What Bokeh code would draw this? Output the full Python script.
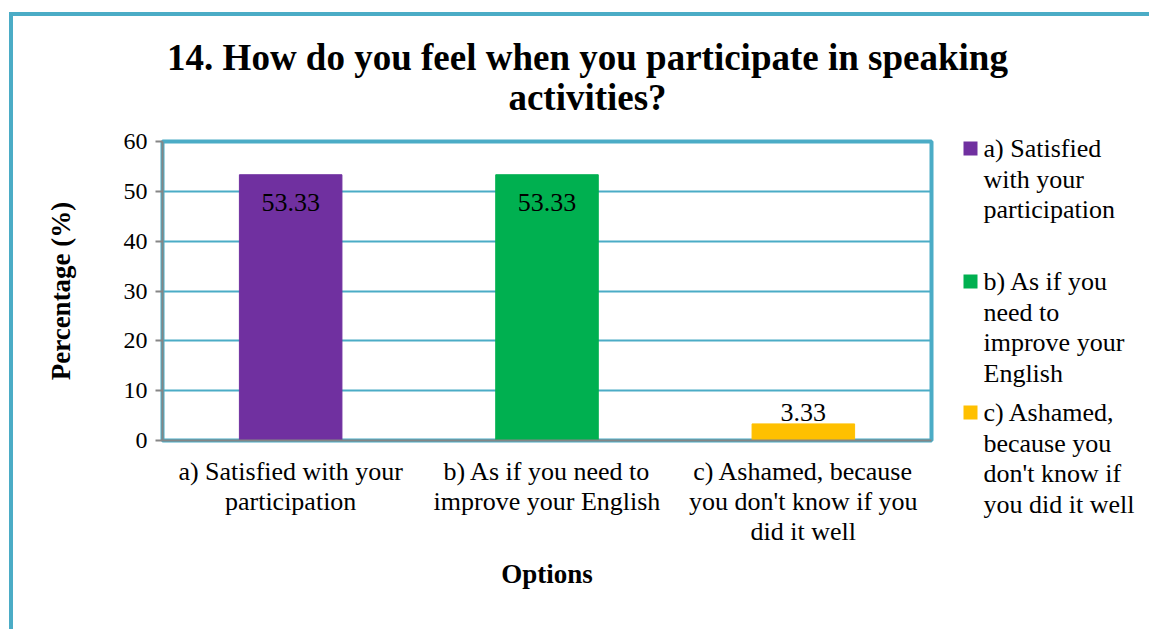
from bokeh.plotting import figure
from bokeh.layouts import row, column
from bokeh.models import (ColumnDataSource, LabelSet, FactorRange, FixedTicker, Range1d)
from bokeh.embed import file_html
from bokeh.resources import INLINE
from bokeh.core.properties import value

# ---- data ----
categories = ["a) Satisfied with your\nparticipation",
              "b) As if you need to\nimprove your English",
              "c) Ashamed, because\nyou don't know if you\ndid it well"]
legend_labels = ["a) Satisfied\nwith your\nparticipation",
                 "b) As if you\nneed to\nimprove your\nEnglish",
                 "c) Ashamed,\nbecause you\ndon't know if\nyou did it well"]
values = [53.33, 53.33, 3.33]
value_labels = ["53.33", "53.33", "3.33"]
colors = ["#7030A0", "#00B050", "#FFC000"]
y_ticks = [0, 10, 20, 30, 40, 50, 60]
title_lines = ["14. How do you feel when you participate in speaking", "activities?"]
x_title = "Options"
y_title = "Percentage (%)"

# ---- styling / layout constants ----
FONT = "Liberation Serif"
TEAL = "#4BACC6"
GRAY = "#868686"
label_offsets = [-28, -28, 11]          # px offset of value labels from bar top
W, TITLE_H, BODY_H, LEG_W = 1136, 110, 503, 206
title_y = [41, 81]
leg_item_top = [22, 155, 286]           # px (legend panel) of first line of each item
leg_line_pitch = 30.7

def blank(width, height):
    f = figure(width=width, height=height, x_range=Range1d(0, width),
               y_range=Range1d(height, 0), output_backend="svg",
               toolbar_location=None, min_border=0, x_axis_location=None,
               y_axis_location=None, background_fill_color="white",
               border_fill_color="white", frame_align=False)
    f.outline_line_color = None
    f.grid.visible = False
    f.title.visible = False
    return f

# ---- title panel ----
t = blank(W, TITLE_H)
t.text(x=[574, 574], y=title_y, text=title_lines, text_align="center",
       text_baseline="middle", text_font=value(FONT), text_font_size="37px",
       text_font_style="bold", text_color="black")

# ---- main chart ----
src = ColumnDataSource(dict(cat=categories, val=values, color=colors,
                            lab=value_labels, off=label_offsets))

p = figure(x_range=FactorRange(*categories), y_range=(0, 60),
           width=W - LEG_W, height=BODY_H, output_backend="svg", toolbar_location=None,
           min_border_left=149, min_border_right=12, min_border_top=15,
           min_border_bottom=189, background_fill_color="white",
           border_fill_color="white", frame_align=False)
p.title.visible = False

r = p.vbar(x="cat", top="val", width=0.4, color="color", source=src)

p.outline_line_color = TEAL
p.outline_line_width = 4
p.xgrid.grid_line_color = None
p.ygrid.grid_line_color = TEAL
p.ygrid.grid_line_width = 2
p.ygrid.ticker = FixedTicker(ticks=y_ticks)

p.yaxis.ticker = FixedTicker(ticks=y_ticks)
p.yaxis.axis_line_color = GRAY
p.yaxis.axis_line_width = 2
p.yaxis.major_tick_line_color = GRAY
p.yaxis.major_tick_line_width = 2
p.yaxis.major_tick_out = 7
p.yaxis.major_tick_in = 0
p.yaxis.minor_tick_line_color = None
p.yaxis.major_label_text_font = FONT
p.yaxis.major_label_text_font_size = "24px"
p.yaxis.major_label_text_color = "black"
p.yaxis.major_label_standoff = 8
p.yaxis.axis_label = y_title
p.yaxis.axis_label_text_font = FONT
p.yaxis.axis_label_text_font_size = "27px"
p.yaxis.axis_label_text_font_style = "bold"
p.yaxis.axis_label_text_color = "black"
p.yaxis.axis_label_standoff = 45

p.xaxis.axis_line_color = GRAY
p.xaxis.axis_line_width = 2
p.xaxis.major_tick_line_color = None
p.xaxis.minor_tick_line_color = None
p.xaxis.major_label_text_font = FONT
p.xaxis.major_label_text_font_size = "26px"
p.xaxis.major_label_text_color = "black"
p.xaxis.major_label_text_line_height = 1.05
p.xaxis.major_label_standoff = 10
p.xaxis.axis_label = x_title
p.xaxis.axis_label_text_font = FONT
p.xaxis.axis_label_text_font_size = "27px"
p.xaxis.axis_label_text_font_style = "bold"
p.xaxis.axis_label_text_color = "black"
p.xaxis.axis_label_standoff = 10

p.add_layout(LabelSet(x="cat", y="val", text="lab", y_offset="off", source=src,
                      text_align="center", text_baseline="middle",
                      text_font=FONT, text_font_size="26px", text_color="black"))

# ---- legend panel ----
q = blank(LEG_W, BODY_H)
sq_x, sq_y, txt_x, txt_y, txt = [], [], [], [], []
for i, lab in enumerate(legend_labels):
    sq_x.append(27)
    sq_y.append(leg_item_top[i])
    for j, line in enumerate(lab.split("\n")):
        txt_x.append(40)
        txt_y.append(leg_item_top[i] + j * leg_line_pitch)
        txt.append(line)
q.rect(x=sq_x, y=sq_y, width=14, height=14, color=colors, line_color=None)
q.text(x=txt_x, y=txt_y, text=txt, text_baseline="middle", text_align="left",
       text_font=value(FONT), text_font_size="26px", text_color="black")

layout = column(t, row(p, q, spacing=0), spacing=0)
layout.margin = (12, 0, 0, 9)
layout.styles = {"border-left": f"4px solid {TEAL}", "border-top": f"4px solid {TEAL}"}

open("out.html", "w").write(file_html(layout, INLINE))
